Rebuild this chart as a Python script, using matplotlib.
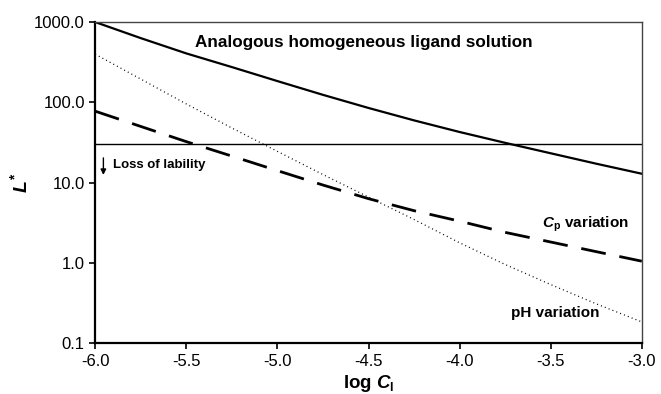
import numpy as np
import matplotlib
matplotlib.use("Agg")
import matplotlib.pyplot as plt
from matplotlib.ticker import FixedLocator, NullLocator

plt.rcParams['font.family'] = ['Liberation Sans', 'DejaVu Sans']
plt.rcParams['mathtext.fontset'] = 'custom'
plt.rcParams['mathtext.rm'] = 'Liberation Sans:bold'
plt.rcParams['mathtext.it'] = 'Liberation Sans:bold:italic'
plt.rcParams['mathtext.bf'] = 'Liberation Sans:bold'

# donnees
log_cl = [-6.0, -5.75, -5.5, -5.25, -5.0, -4.75, -4.5,
          -4.25, -4.0, -3.75, -3.5, -3.25, -3.0]
L_homogene = [1000, 631, 407, 275, 184, 124, 85.1,
              59.6, 42.7, 31.3, 23.2, 17.2, 12.9]
L_cp = [77.6, 50.1, 32.4, 21.4, 14.1, 9.33, 6.31,
        4.47, 3.31, 2.40, 1.82, 1.38, 1.05]
L_ph = [398, 195, 95.5, 47.9, 24.5, 12.6, 6.61,
        3.47, 1.78, 0.955, 0.537, 0.309, 0.184]
seuil = 30

y_ticks = [0.1, 1, 10, 100, 1000]
x_ticks = [-6.0, -5.5, -5.0, -4.5, -4.0, -3.5, -3.0]

fig, ax = plt.subplots(figsize=(6.61, 3.94), dpi=100)
fig.subplots_adjust(left=0.144, right=0.971, top=0.944, bottom=0.129)

ax.plot(log_cl, L_homogene, color='black', lw=1.6)
ax.plot(log_cl, L_cp, color='black', lw=2.0, dashes=(9, 5))
ax.plot(log_cl, L_ph, color='black', lw=0.9, dashes=(0.8, 2.5))
ax.axhline(seuil, color='black', lw=1.0)

ax.set_yscale('log')
ax.set_xlim(-6, -3)
ax.set_ylim(0.1, 1000)
ax.yaxis.set_major_locator(FixedLocator(y_ticks))
ax.yaxis.set_minor_locator(NullLocator())
ax.set_yticklabels(['%.1f' % v for v in y_ticks])
ax.set_xticks(x_ticks)
ax.set_xticklabels(['%.1f' % v for v in x_ticks])
ax.tick_params(labelsize=12, direction='out', length=4, width=1.2)

for s in ['left', 'bottom']:
    ax.spines[s].set_linewidth(1.6)
for s in ['top', 'right']:
    ax.spines[s].set_linewidth(1.0)
    ax.spines[s].set_color('#444444')

ax.set_xlabel(r'log $C_\mathrm{l}$', fontsize=13.5, fontweight='bold')
ax.set_ylabel(r'$L^{*}$', fontsize=14, fontweight='bold')
ax.xaxis.set_label_coords(0.5, -0.094)
ax.yaxis.set_label_coords(-0.118, 0.5)

ax.text(-5.45, 560, 'Analogous homogeneous ligand solution',
        fontsize=12.3, fontweight='bold', va='center')
ax.annotate('', xy=(-5.955, 11.5), xytext=(-5.955, 22),
            arrowprops=dict(arrowstyle='-|>', color='black', lw=1.0,
                            mutation_scale=8))
ax.text(-5.90, 16.5, 'Loss of lability', fontsize=9.5,
        fontweight='bold', va='center')
ax.text(-3.55, 3.0, r'$C_\mathrm{p}$ variation', fontsize=11,
        fontweight='bold', va='center')
ax.text(-3.72, 0.24, 'pH variation', fontsize=11,
        fontweight='bold', va='center')

plt.savefig('out.png', dpi=100)
